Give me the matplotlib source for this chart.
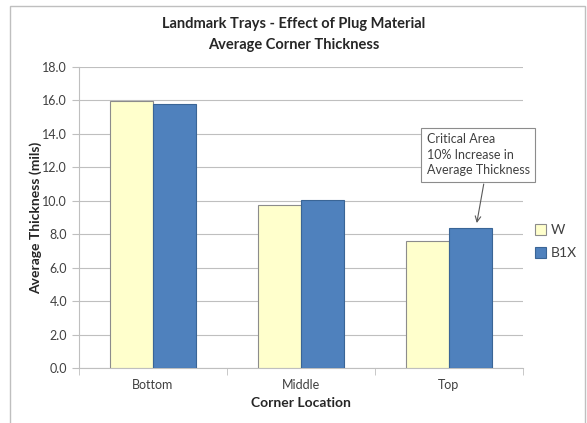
import matplotlib
matplotlib.use("Agg")
import matplotlib.pyplot as plt
import numpy as np
from matplotlib.patches import Rectangle

categories = ["Bottom", "Middle", "Top"]
series_names = ["W", "B1X"]
w_values = [15.95, 9.75, 7.6]
b1x_values = [15.8, 10.05, 8.37]
y_ticks = [0, 2, 4, 6, 8, 10, 12, 14, 16, 18]

plt.rcParams['font.family'] = ['Lato', 'DejaVu Sans']

fig = plt.figure(figsize=(5.87, 4.23), dpi=100)
fig.patches.append(Rectangle((0.017, -0.01), 0.98, 0.996, transform=fig.transFigure,
                             fill=False, edgecolor='#BFBFBF', linewidth=1.0))
ax = fig.add_axes([0.1346, 0.13, 0.756, 0.7116])

x = np.arange(len(categories))
bw = 0.29
ax.bar(x - bw/2, w_values, bw, color='#FFFFCC', edgecolor='#8C8C8C', linewidth=0.8,
       label=series_names[0], zorder=3)
ax.bar(x + bw/2, b1x_values, bw, color='#4F81BD', edgecolor='#3A6596', linewidth=0.8,
       label=series_names[1], zorder=3)

ax.set_xlim(-0.5, 2.5)
ax.set_ylim(0, 18)
ax.set_yticks(y_ticks)
ax.set_yticklabels([f"{v:.1f}" for v in y_ticks], color='#404040', fontsize=9)
ax.yaxis.grid(True, color='#BFBFBF', linewidth=0.8, zorder=0)
ax.set_axisbelow(True)

ax.set_xticks(x)
ax.set_xticklabels(categories, color='#404040', fontsize=9)
ax.set_xticks([-0.5, 0.5, 1.5, 2.5], minor=True)
ax.tick_params(axis='x', which='major', length=0, pad=8)
ax.tick_params(axis='x', which='minor', length=5, color='#BFBFBF', direction='out')
ax.tick_params(axis='y', length=5, color='#BFBFBF', direction='out')

for side in ['top', 'right']:
    ax.spines[side].set_visible(False)
for side in ['left', 'bottom']:
    ax.spines[side].set_color('#BFBFBF')

ax.set_xlabel("Corner Location", fontsize=10, fontweight='bold', color='#262626', labelpad=4)
ax.set_ylabel("Average Thickness (mils)", fontsize=10, fontweight='bold', color='#262626', labelpad=0)

fig.text(0.5, 1 - 24/423, "Landmark Trays - Effect of Plug Material",
         ha='center', va='center', fontsize=10.5, fontweight='bold', color='#262626')
fig.text(0.5, 1 - 45/423, "Average Corner Thickness",
         ha='center', va='center', fontsize=10.5, fontweight='bold', color='#262626')

ax.text(1.85, 12.74, "Critical Area\n10% Increase in\nAverage Thickness",
        ha='left', va='center', fontsize=9, color='#404040', linespacing=1.35,
        bbox=dict(boxstyle='square,pad=0.45', fc='white', ec='#8C8C8C', lw=0.8),
        zorder=5)
ax.annotate("", xy=(2.189, 8.67), xytext=(2.236, 11.0),
            arrowprops=dict(arrowstyle='->', color='#595959', lw=0.8,
                            shrinkA=0, shrinkB=0),
            annotation_clip=False)

leg = ax.legend(loc='center left', bbox_to_anchor=(1.0, 0.42), frameon=False,
                fontsize=10, handlelength=0.8, handleheight=0.8, handletextpad=0.3,
                labelspacing=0.8)
for t in leg.get_texts():
    t.set_color('#404040')

fig.savefig("out.png", dpi=100)
